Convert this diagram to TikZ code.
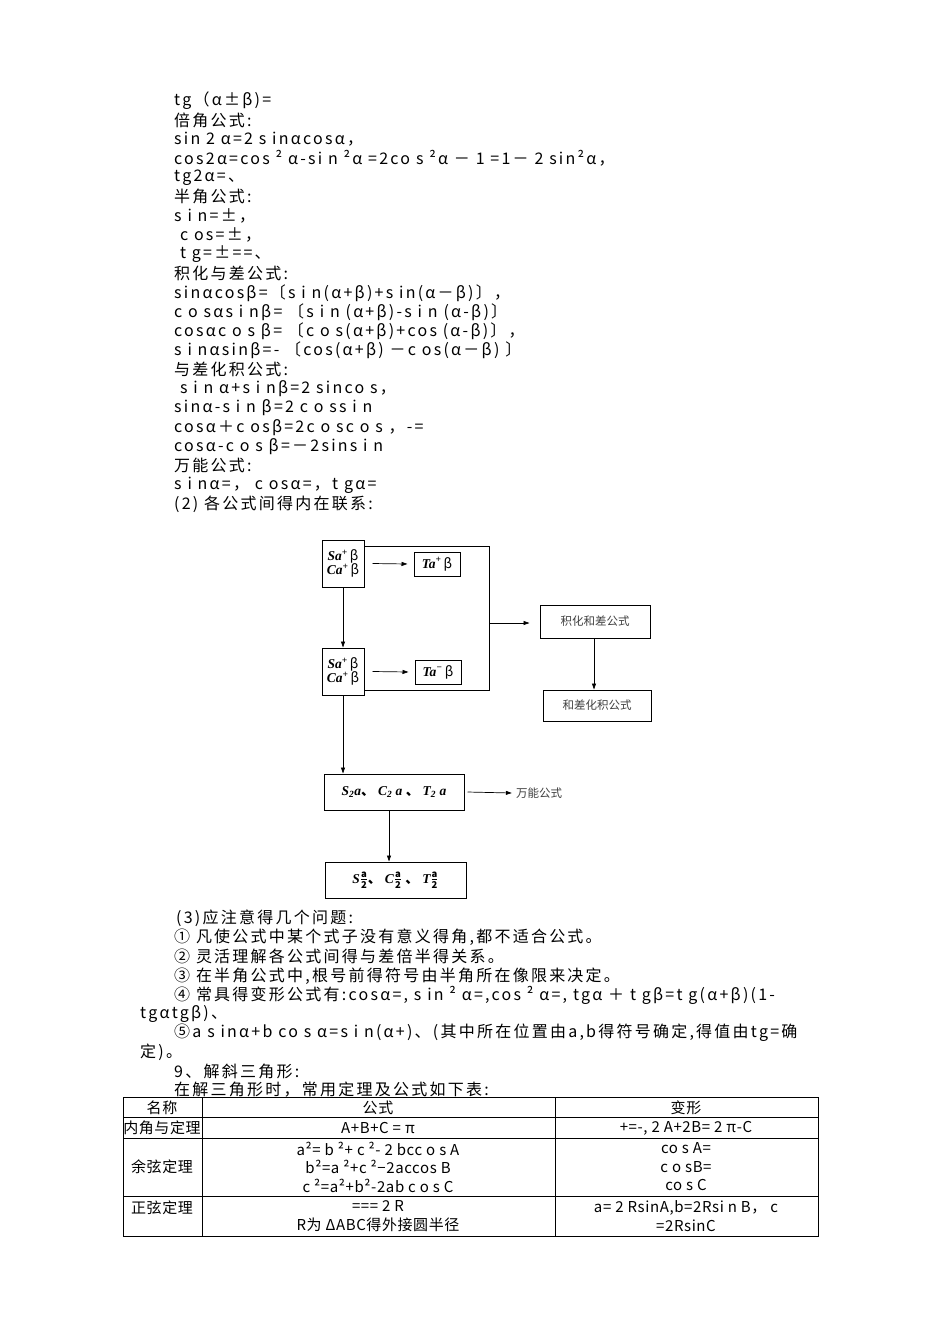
\documentclass[tikz,border=0pt]{standalone}
\usepackage{fontspec}
\setmainfont{Noto Sans CJK SC}[LetterSpace=14]
\newfontfamily\plainf{Noto Sans CJK SC}
\newfontfamily\tabf{Noto Sans CJK SC}[LetterSpace=4]
\newfontfamily\bxf{Liberation Serif}
\newcommand\dun{{\plainf 、}}
\usetikzlibrary{arrows.meta}
\tikzset{
 ln/.style={anchor=west,inner sep=0pt,font=\fontsize{16}{17}\selectfont},
 bx/.style={draw,line width=1pt,inner sep=0pt},
 ar/.style={-{Triangle[length=6pt,width=4pt]},line width=0.7pt},
 cl/.style={inner sep=0pt,font=\tabf\fontsize{15}{18.5}\selectfont,align=center},
 bt/.style={font=\bxf\bfseries\itshape\fontsize{13.5}{12}\selectfont,inner sep=0pt,align=center},
 ct/.style={font=\plainf\fontsize{11.5}{12}\selectfont,inner sep=0pt,text=black!75}
}
\begin{document}
\begin{tikzpicture}[x=1pt,y=-1pt]
\useasboundingbox[fill=white] (0,0) rectangle (950,1344);
% top text
\foreach \t [count=\i from 0] in {
 {tg（α±β)=},{倍角公式:},{sin 2 α=2 s inαcosα，},
 {cos2α=cos ² α-si n ²α =2co s ²α － 1 =1－ 2 sin²α，},
 {tg2α=、},{半角公式:},{s i n=±，},{\ c os=±，},{\ t g=±==、},
 {积化与差公式:},{sinαcosβ=〔s i n(α+β)+s in(α－β)〕，},
 {c o sαs i nβ= 〔s i n (α+β)-s i n (α-β)〕},
 {cosαc o s β= 〔c o s(α+β)+cos (α-β)〕，},
 {s i nαsinβ=- 〔cos(α+β) －c os(α－β) 〕},
 {与差化积公式:},{\ s i n α+s i nβ=2 sinco s，},
 {sinα-s i n β=2 c o ss i n},{cosα＋c osβ=2c o sc o s ，-=},
 {cosα-c o s β=－2sins i n},{万能公式:},{s i nα=， c osα=，t gα=},
 {(2) 各公式间得内在联系:}}
 \node[ln] (t\i) at (174,101+19.19*\i) {\t};
% diagram
\node[bx,minimum width=42pt,minimum height=47pt] (s1) at (343,563.5) {};
\node[bt] at (s1) {Sa\textsuperscript{+}\,{\normalfont\upshape β}\\[-1pt]Ca\textsuperscript{+}\,{\normalfont\upshape β}};
\node[bx,minimum width=46pt,minimum height=24pt] (tp) at (437,564) {};
\node[bt] at (tp) {Ta\textsuperscript{+}\,{\normalfont\upshape β}};
\node[bx,minimum width=42pt,minimum height=47pt] (s2) at (343,671.5) {};
\node[bt] at (s2) {Sa\textsuperscript{+}\,{\normalfont\upshape β}\\[-1pt]Ca\textsuperscript{+}\,{\normalfont\upshape β}};
\node[bx,minimum width=46pt,minimum height=24pt] (tm) at (438,672) {};
\node[bt] at (tm) {Ta\textsuperscript{−}\,{\normalfont\upshape β}};
\node[bx,minimum width=110pt,minimum height=33pt] (jh) at (595,621.5) {};
\node[ct] at (jh) {积化和差公式};
\node[bx,minimum width=108pt,minimum height=31pt] (hc) at (597,705.5) {};
\node[ct] at (hc) {和差化积公式};
\node[bx,minimum width=140pt,minimum height=36pt] (d2) at (394,792) {};
\node[bt] at (d2) {S\textsubscript{2}a\dun\ C\textsubscript{2} a \dun\ T\textsubscript{2} a};
\node[ct] (wn) at (539,793) {万能公式};
\node[bx,minimum width=141pt,minimum height=36pt] (hf) at (395.5,880) {};
\node[bt] at (hf) {S$\frac{\mathbf{a}}{\mathbf{2}}$\dun\ C$\frac{\mathbf{a}}{\mathbf{2}}$ \dun\ T$\frac{\mathbf{a}}{\mathbf{2}}$};
\coordinate (r1) at (489,546);
\coordinate (r2) at (489,690);
\coordinate (rm) at (489,623);
\draw[line width=0.8pt] (s1.north east|-r1) -- (r1) -- (r2) -- (s2.south east|-r2);
\draw[ar] (rm) -- ([xshift=-10pt]jh.west|-rm);
\draw[ar] (s1.east) ++(8,0) -- ([xshift=-6pt]tp.west);
\draw[ar] (s2.east) ++(8,0) -- ([xshift=-6pt]tm.west);
\draw[ar] (s1.south) -- (s2.north);
\draw[ar] (s2.south) -- (s2.south|-d2.north);
\draw[ar] (d2.east) ++(3,0) -- ([xshift=-4pt]wn.west);
\draw[ar] (d2.south-|389,0) -- (hf.north-|389,0);
\draw[ar] (jh.south-|594,0) -- (hc.north-|594,0);
% section 3
\node[ln] (p0) at (176,918) {(3)应注意得几个问题:};
\node[ln] (p1) at (174,937) {① 凡使公式中某个式子没有意义得角,都不适合公式。};
\node[ln] (p2) at (174,956) {② 灵活理解各公式间得与差倍半得关系。};
\node[ln] (p3) at (174,976) {③ 在半角公式中,根号前得符号由半角所在像限来决定。};
\node[ln] (p4) at (174,995) {④ 常具得变形公式有:cosα=, s in ² α=,cos ² α=, tgα ＋ t gβ=t g(α+β)(1-};
\node[ln] (p5) at (140,1014) {tgαtgβ)、};
\node[ln] (p6) at (174,1033) {⑤a s inα+b co s α=s i n(α+)、(其中所在位置由a,b得符号确定,得值由tg=确};
\node[ln] (p7) at (140,1052) {定)。};
\node[ln] (p8) at (174,1071) {9、解斜三角形:};
\node[ln] (p9) at (174,1090) {在解三角形时，常用定理及公式如下表:};
% table
\draw[line width=0.8pt] (123,1097) rectangle (818,1236);
\foreach \y in {1117,1138,1196} \draw[line width=0.8pt] (123,\y) -- (818,\y);
\draw[line width=0.8pt] (202,1097) -- (202,1236);
\draw[line width=0.8pt] (555,1097) -- (555,1236);
\node[cl] (a1) at (162,1108) {名称};
\node[cl] (a2) at (378,1108) {公式};
\node[cl] (a3) at (686,1108) {变形};
\node[cl] (b1) at (162,1128) {内角与定理};
\node[cl] (b2) at (378,1128) {A+B+C = π};
\node[cl] (b3) at (686,1128) {+=-, 2 A+2B= 2 π-C};
\node[cl] (c1) at (162,1167) {余弦定理};
\node[cl] (c2) at (378,1167) {a²= b ²+ c ²- 2 bcc o s A\\b²=a ²+c ²−2accos B\\c ²=a²+b²-2ab c o s C};
\node[cl] (c3) at (686,1167) {co s A=\\c o sB=\\co s C};
\node[cl] (d1) at (162,1208) {正弦定理};
\node[cl] (dd2) at (378,1216) {=== 2 R\\R为 ΔABC得外接圆半径};
\node[cl] (dd3) at (686,1216) {a= 2 RsinA,b=2Rsi n B， c\\=2RsinC};
\end{tikzpicture}
\end{document}
